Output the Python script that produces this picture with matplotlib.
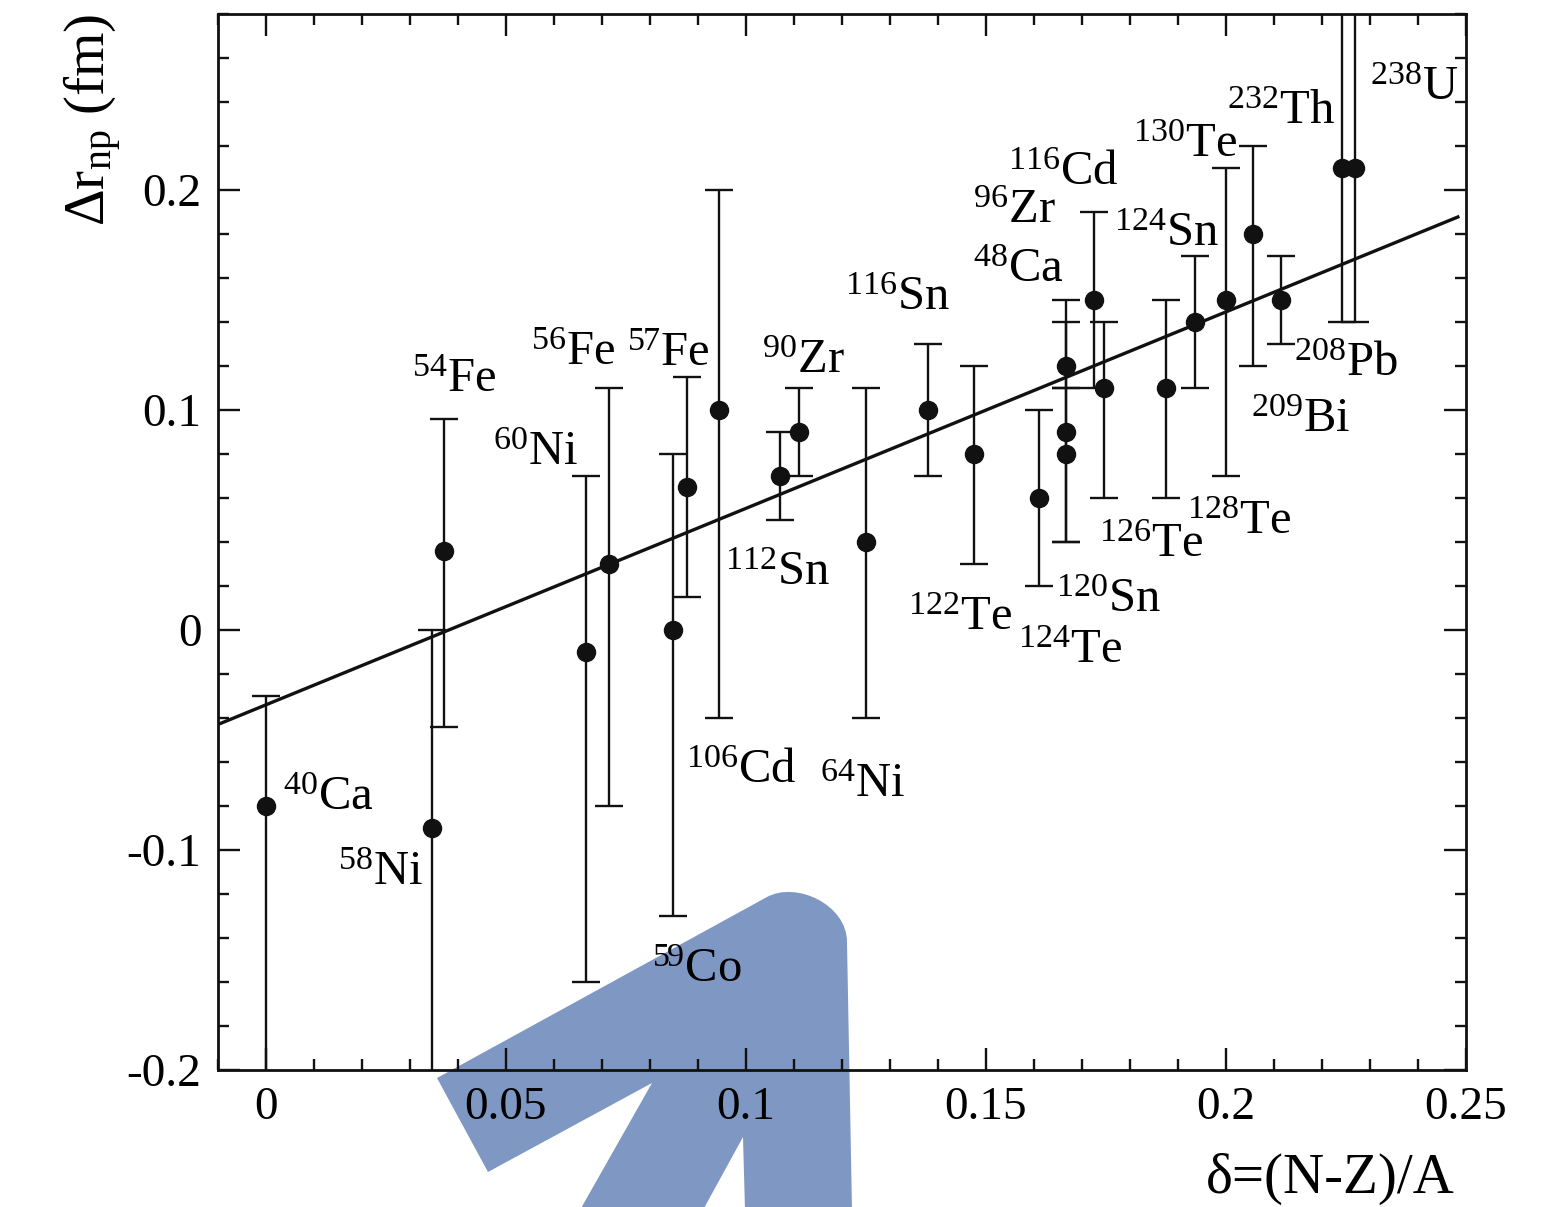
import matplotlib
matplotlib.use("Agg")
import matplotlib.pyplot as plt
from matplotlib.path import Path
from matplotlib.patches import PathPatch
from matplotlib.transforms import Affine2D
from matplotlib.ticker import MultipleLocator

plt.rcParams['font.family'] = ['Liberation Serif', 'DejaVu Serif']
plt.rcParams['mathtext.fontset'] = 'custom'
plt.rcParams['mathtext.rm'] = 'Liberation Serif'
plt.rcParams['mathtext.it'] = 'Liberation Serif:italic'

# neutron excess delta = (N-Z)/A and neutron skin thickness (fm)
nuclei = ['40Ca', '58Ni', '54Fe', '60Ni', '56Fe', '59Co', '57Fe', '106Cd', '112Sn',
          '90Zr', '64Ni', '116Sn', '122Te', '124Te', '48Ca', '96Zr', '120Sn',
          '116Cd', '126Te', '128Te', '124Sn', '130Te', '209Bi', '208Pb', '232Th', '238U']
delta = [0.0, 0.0345, 0.037, 0.0667, 0.0714, 0.0847, 0.0877, 0.0943, 0.107,
         0.111, 0.125, 0.138, 0.1475, 0.161, 0.1667, 0.1667, 0.1667,
         0.1724, 0.1746, 0.1875, 0.1935, 0.2, 0.2057, 0.2115, 0.2241, 0.2269]
drnp = [-0.08, -0.09, 0.036, -0.01, 0.03, 0.0, 0.065, 0.10, 0.07,
        0.09, 0.04, 0.10, 0.08, 0.06, 0.12, 0.09, 0.08,
        0.15, 0.11, 0.11, 0.14, 0.15, 0.18, 0.15, 0.21, 0.21]
err_up = [0.05, 0.09, 0.06, 0.08, 0.08, 0.08, 0.05, 0.10, 0.02,
          0.02, 0.07, 0.03, 0.04, 0.04, 0.03, 0.05, 0.03,
          0.04, 0.03, 0.04, 0.03, 0.06, 0.04, 0.02, 0.20, 0.20]
err_dn = [0.20, 0.20, 0.08, 0.15, 0.11, 0.13, 0.05, 0.14, 0.02,
          0.02, 0.08, 0.03, 0.05, 0.04, 0.01, 0.05, 0.04,
          0.04, 0.05, 0.05, 0.03, 0.08, 0.06, 0.02, 0.07, 0.07]

# label anchor (left, baseline) for each nucleus
label_x = [0.0035, 0.015, 0.0304, 0.0473, 0.0553, 0.0805, 0.0753, 0.0876, 0.0957,
           0.1034, 0.1155, 0.1207, 0.1337, 0.1566, 0.1472, 0.1472, 0.1645,
           0.1545, 0.1735, 0.1918, 0.1766, 0.1806, 0.2052, 0.2141, 0.2002, 0.230]
label_y = [-0.082, -0.116, 0.108, 0.075, 0.1205, -0.16, 0.12, -0.0695, 0.0205,
           0.117, -0.076, 0.1455, 0.0, -0.015, 0.158, 0.185, 0.008,
           0.2023, 0.033, 0.0436, 0.1745, 0.215, 0.09, 0.1155, 0.23, 0.241]

# linear fit  drnp = slope*delta + offset
slope = 0.893
offset = -0.034
fit_range = [-0.01, 0.2483]

W, H = 1553, 1207
fig = plt.figure(figsize=(W / 100, H / 100), dpi=100)
ax = fig.add_axes([218 / W, 1 - 1070 / H, (1466 - 218) / W, (1070 - 14) / H])
ax.patch.set_alpha(0)

# blue arrow-like shape sitting behind the axes (pixel coordinates, y down)
px = Affine2D().scale(1 / W, -1 / H).translate(0, 1) + fig.transFigure
verts = [(437, 1078), (767, 897), (797, 881), (847, 905), (847, 942),
         (852, 1210), (745, 1210), (743, 1137), (703, 1210), (580, 1210),
         (652, 1083), (488, 1172), (437, 1078)]
codes = [Path.MOVETO, Path.LINETO, Path.CURVE4, Path.CURVE4, Path.CURVE4,
         Path.LINETO, Path.LINETO, Path.LINETO, Path.LINETO, Path.LINETO,
         Path.LINETO, Path.LINETO, Path.CLOSEPOLY]
blob = PathPatch(Path(verts, codes), facecolor='#7f97c3', edgecolor='none',
                 transform=px, zorder=-5)
fig.patches.append(blob)

ax.errorbar(delta, drnp, yerr=[err_dn, err_up], fmt='o', color='#111111',
            markersize=13, elinewidth=1.7, capsize=10, capthick=1.7, zorder=3)

fx = fit_range
ax.plot(fx, [slope * v + offset for v in fx], color='#111111', lw=2.4, zorder=2)

for name, lx, ly in zip(nuclei, label_x, label_y):
    mass = ''.join(c for c in name if c.isdigit())
    sym = ''.join(c for c in name if c.isalpha())
    ax.text(lx, ly, r'$^{\mathrm{%s}}$%s' % (mass, sym), fontsize=35,
            ha='left', va='baseline', zorder=4)

ax.set_xlim(-0.01, 0.25)
ax.set_ylim(-0.2, 0.28)
ax.xaxis.set_major_locator(MultipleLocator(0.05))
ax.xaxis.set_minor_locator(MultipleLocator(0.01))
ax.yaxis.set_major_locator(MultipleLocator(0.1))
ax.yaxis.set_minor_locator(MultipleLocator(0.02))
ax.set_xticks([0, 0.05, 0.1, 0.15, 0.2, 0.25])
ax.set_xticklabels(['0', '0.05', '0.1', '0.15', '0.2', '0.25'])
ax.set_yticks([-0.2, -0.1, 0, 0.1, 0.2])
ax.set_yticklabels(['-0.2', '-0.1', '0', '0.1', '0.2'])
ax.tick_params(which='both', direction='in', top=True, right=True,
               width=1.7, labelsize=34, color='#111111')
ax.tick_params(which='major', length=16)
ax.tick_params(which='minor', length=8)
ax.tick_params(axis='x', pad=12)
ax.tick_params(axis='y', pad=12)
for s in ax.spines.values():
    s.set_linewidth(2.0)
    s.set_color('#111111')

fig.text(1455 / W, 1 - 1193 / H, 'δ=(N-Z)/A', fontsize=41,
         ha='right', va='baseline')
fig.text(124 / W, 1 - 14 / H, r'Δr$_{\mathrm{np}}$ (fm)', fontsize=41,
         rotation=90, ha='right', va='top')

fig.savefig('out.png', dpi=100)
